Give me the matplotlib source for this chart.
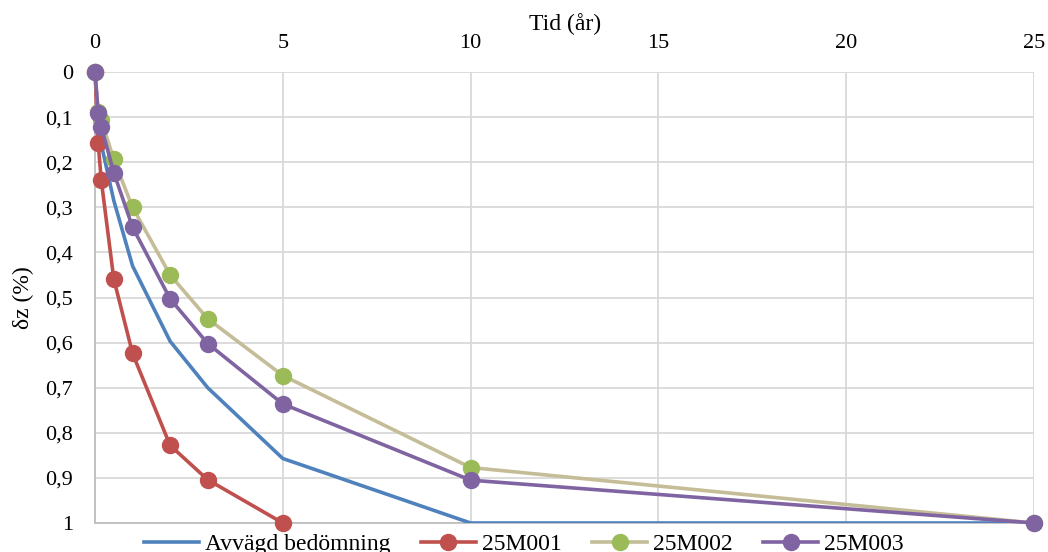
import matplotlib
matplotlib.use("Agg")
import matplotlib.pyplot as plt
from matplotlib.ticker import FuncFormatter, MultipleLocator

plt.rcParams['font.family'] = ['Liberation Serif', 'DejaVu Serif']

# time in years
tid = [0, 1/12, 1/6, 0.5, 1, 2, 3, 5, 10, 25]
tid_25m001 = [0, 1/12, 1/6, 0.5, 1, 2, 3, 5]

avvagd = [0, 0.10, 0.16, 0.285, 0.43, 0.597, 0.70, 0.857, 1.0, 1.0]
m001 = [0, 0.157, 0.24, 0.459, 0.624, 0.828, 0.904, 1.0]
m002 = [0, 0.088, 0.106, 0.194, 0.30, 0.45, 0.547, 0.673, 0.877, 1.0]
m003 = [0, 0.09, 0.121, 0.223, 0.344, 0.503, 0.602, 0.736, 0.905, 1.0]

fs = 16

fig = plt.figure(figsize=(10.48, 5.52), dpi=100)
ax = fig.add_axes([95/1048, 1 - 523/552, (1034 - 95)/1048, (523 - 72)/552])

lw = 2.6
ms = 11.5
ax.plot(tid, avvagd, color='#4F81BD', lw=lw, label='Avvägd bedömning', zorder=3)
ax.plot(tid_25m001, m001, color='#C0504D', lw=lw, marker='o', ms=ms,
        label='25M001', clip_on=False, zorder=4)
ax.plot(tid, m002, color='#C4BD97', lw=lw, marker='o', ms=ms,
        mfc='#9BBB59', mec='#9BBB59', label='25M002', clip_on=False, zorder=5)
ax.plot(tid, m003, color='#8064A2', lw=lw, marker='o', ms=ms,
        label='25M003', clip_on=False, zorder=6)

def komma(v, p):
    if abs(v) < 1e-9 or abs(v - 1) < 1e-9:
        return f"{int(round(v))}"
    return f"{v:.1f}".replace('.', ',')

ax.set_xlim(0, 25)
ax.set_ylim(1, 0)
ax.xaxis.set_major_locator(MultipleLocator(5))
ax.yaxis.set_major_locator(MultipleLocator(0.1))
ax.yaxis.set_major_formatter(FuncFormatter(komma))
ax.xaxis.tick_top()
ax.tick_params(length=0, labelsize=fs, colors='black')
ax.tick_params(axis='y', pad=16)
ax.tick_params(axis='x', pad=14)

ax.grid(True, color='#D9D9D9', lw=1.3, zorder=0)
ax.set_axisbelow(True)
for s in ['top', 'right']:
    ax.spines[s].set_visible(False)
for s in ['left', 'bottom']:
    ax.spines[s].set_color('#BFBFBF')
    ax.spines[s].set_linewidth(1.3)

fig.text(565/1048, 1 - 24/552, 'Tid (år)', fontsize=17, ha='center', va='center')
ax.set_ylabel('δz (%)', fontsize=17, labelpad=8)

fig.legend(loc='center', bbox_to_anchor=(0.5, 1 - 544/552), ncol=4, frameon=False,
           fontsize=17, handlelength=2.3, columnspacing=1.3, handletextpad=0.27,
           borderaxespad=0, borderpad=0)

fig.savefig('out.png', dpi=100)
